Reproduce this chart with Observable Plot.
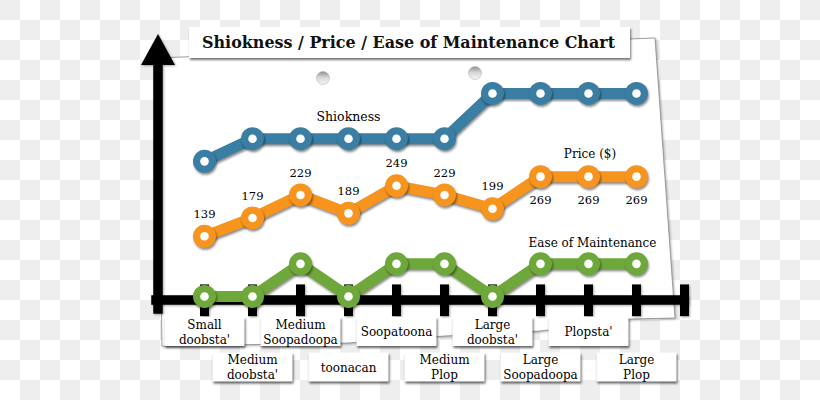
<!DOCTYPE html>
<html>
<head>
<meta charset="utf-8">
<script src="https://cdn.jsdelivr.net/npm/d3@7"></script>
<script src="https://cdn.jsdelivr.net/npm/@observablehq/plot@0.6"></script>
<style>
html, body { margin: 0; padding: 0; }
body {
  width: 820px; height: 400px; overflow: hidden;
  background-color: #fff;
  background-image: conic-gradient(#fff 0 25%, #eeeeee 0 50%, #fff 0 75%, #eeeeee 0);
  background-size: 40px 40px;
}
#chart svg { display: block; }
</style>
</head>
<body>
<div id="chart"></div>
<script>
// ---- data ----
const categories = ["Small doobsta'", "Medium doobsta'", "Medium Soopadoopa", "toonacan", "Soopatoona",
                    "Medium Plop", "Large doobsta'", "Large Soopadoopa", "Plopsta'", "Large Plop"];
const seriesNames = ["Shiokness", "Price ($)", "Ease of Maintenance"];
const shiokness = [1, 2, 2, 2, 2, 2, 4, 4, 4, 4];
const price = [139, 179, 229, 189, 249, 229, 199, 269, 269, 269];
const ease = [0, 0, 1, 0, 1, 1, 0, 1, 1, 1];
const chartTitle = "Shiokness / Price / Ease of Maintenance Chart";

// ---- styling ----
const colors = ["#3a7ea3", "#f7941d", "#6fa83a"];
const FONT = "'DejaVu Serif', serif";

// price is drawn in dollars; the two unitless ratings sit in their own bands on the same y scale
const placeOnScale = [
  level => 253 + 49.3 * level,
  dollars => dollars,
  level => 8 + 71 * level
];
const seriesValues = [shiokness, price, ease];
const rows = seriesValues.flatMap((values, s) => values.map((value, i) => ({
  series: seriesNames[s], category: categories[i], index: i, value, y: placeOnScale[s](value)
})));
const priceRows = rows.filter(d => d.series === seriesNames[1]);
const at = (name, i) => rows.filter(d => d.series === name && d.index === i);

const AXIS_START = "axis-start", AXIS_END = "axis-end";
const xDomain = [AXIS_START, ...categories, AXIS_END];
const upperRow = categories.filter((d, i) => i % 2 === 0);
const lowerRow = categories.filter((d, i) => i % 2 === 1);

const boxSymbol = { draw(ctx) { ctx.rect(-40, -14.5, 80, 29); } };
const arrowSymbol = { draw(ctx) { ctx.moveTo(-17, 0); ctx.lineTo(0, -31); ctx.lineTo(17, 0); ctx.closePath(); } };

const shadow = "drop-shadow(1.5px 2px 1.2px rgba(0,0,0,0.45))";
const boxShadow = "drop-shadow(1px 2px 0.8px rgba(0,0,0,0.6))";
const axisShadow = "drop-shadow(1px 1px 1px rgba(0,0,0,0.35))";

const plot = Plot.plot({
  width: 820,
  height: 400,
  margin: 0,
  style: { background: "transparent", fontFamily: FONT, overflow: "visible" },
  x: { type: "point", domain: xDomain, range: [155.2, 684.1], padding: 0, axis: null },
  y: { type: "linear", domain: [0, 300], range: [299.6, 161.9], axis: null },
  color: { domain: seriesNames, range: colors },
  marks: [
    // axes
    Plot.ruleX([AXIS_START], { x: d => d, y1: -31, y2: 512, stroke: "#000", strokeWidth: 9.5, dx: 1.5, imageFilter: axisShadow }),
    Plot.dot([AXIS_START], { x: d => d, y: 512, symbol: arrowSymbol, fill: "#000", stroke: "none", dx: 1.5, imageFilter: axisShadow }),
    Plot.ruleY([0], { x1: () => AXIS_START, x2: () => AXIS_END, stroke: "#000", strokeWidth: 9.5, strokeLinecap: "square", imageFilter: axisShadow }),
    Plot.ruleX([...categories, AXIS_END], { x: d => d, y1: -36, y2: 33, stroke: "#000", strokeWidth: 9, imageFilter: axisShadow }),
    // series
    Plot.line(rows, { x: "category", y: "y", z: "series", stroke: "series", strokeWidth: 11, strokeLinejoin: "round", strokeLinecap: "round", imageFilter: shadow }),
    Plot.dot(rows, { x: "category", y: "y", r: 11.5, fill: "series", stroke: "none", imageFilter: shadow }),
    Plot.dot(rows, { x: "category", y: "y", r: 4.3, fill: "#fff", stroke: "none" }),
    // price values
    Plot.text(priceRows.filter(d => d.index < 7), { x: "category", y: "y", text: d => String(d.value), dy: -22, fontSize: 11.5, fill: "#000" }),
    Plot.text(priceRows.filter(d => d.index >= 7), { x: "category", y: "y", text: d => String(d.value), dy: 24, fontSize: 11.5, fill: "#000" }),
    // series names
    Plot.text(at(seriesNames[0], 3), { x: "category", y: "y", text: "series", dy: -22, fontSize: 12.5, fill: "#000" }),
    Plot.text(at(seriesNames[1], 8), { x: "category", y: "y", text: "series", dx: 1.5, dy: -22, fontSize: 12, fill: "#000" }),
    Plot.text(at(seriesNames[2], 8), { x: "category", y: "y", text: "series", dx: 4, dy: -21, fontSize: 12, fill: "#000" }),
    // category labels on paper slips
    Plot.dot(upperRow, { x: d => d, y: 0, dy: 31.5, symbol: boxSymbol, fill: "#fff", stroke: "none", imageFilter: boxShadow }),
    Plot.dot(lowerRow, { x: d => d, y: 0, dy: 67, symbol: boxSymbol, fill: "#fff", stroke: "none", imageFilter: boxShadow }),
    Plot.text(upperRow, { x: d => d, y: 0, dy: 31.5, text: d => d.replace(" ", "\n"), lineHeight: 1.25, fontSize: 12, fill: "#000" }),
    Plot.text(lowerRow, { x: d => d, y: 0, dy: 67, text: d => d.replace(" ", "\n"), lineHeight: 1.25, fontSize: 12, fill: "#000" })
  ]
});

// ---- decoration: paper sheet, punch holes, title slip ----
const svg = d3.select(plot);
const defs = svg.insert("defs", ":first-child");
const grad = defs.append("linearGradient").attr("id", "holeGrad").attr("x1", 0).attr("y1", 0).attr("x2", 0).attr("y2", 1);
grad.append("stop").attr("offset", "0%").attr("stop-color", "#8c8c8c");
grad.append("stop").attr("offset", "45%").attr("stop-color", "#d6d6d6");
grad.append("stop").attr("offset", "100%").attr("stop-color", "#f6f6f6");

const deco = svg.insert("g", "g");
deco.append("path")
  .attr("d", "M158,58 L655,38 L675,318 L632,319 L540,331 L445,336 L348,343 L162,346 Z")
  .attr("fill", "#fff").attr("stroke", "#8a8a8a").attr("stroke-width", 0.8)
  .style("filter", "drop-shadow(1px 1.5px 1px rgba(0,0,0,0.3))");
for (const [cx, cy] of [[323, 78], [475, 73]]) {
  deco.append("circle").attr("cx", cx).attr("cy", cy).attr("r", 6.5)
    .attr("fill", "url(#holeGrad)").attr("stroke", "#b5b5b5").attr("stroke-width", 0.6);
}

const tg = svg.append("g");
tg.append("rect").attr("x", 189).attr("y", 27).attr("width", 441).attr("height", 31)
  .attr("fill", "#fff").style("filter", "drop-shadow(1px 2.5px 1px rgba(0,0,0,0.55))");
tg.append("text").attr("x", 408.5).attr("y", 42.5)
  .attr("text-anchor", "middle").attr("dominant-baseline", "central")
  .attr("font-family", FONT).attr("font-size", 16).attr("font-weight", "bold").attr("fill", "#111")
  .attr("textLength", 413).attr("lengthAdjust", "spacingAndGlyphs")
  .text(chartTitle);

document.getElementById("chart").appendChild(plot);
</script>
</body>
</html>
